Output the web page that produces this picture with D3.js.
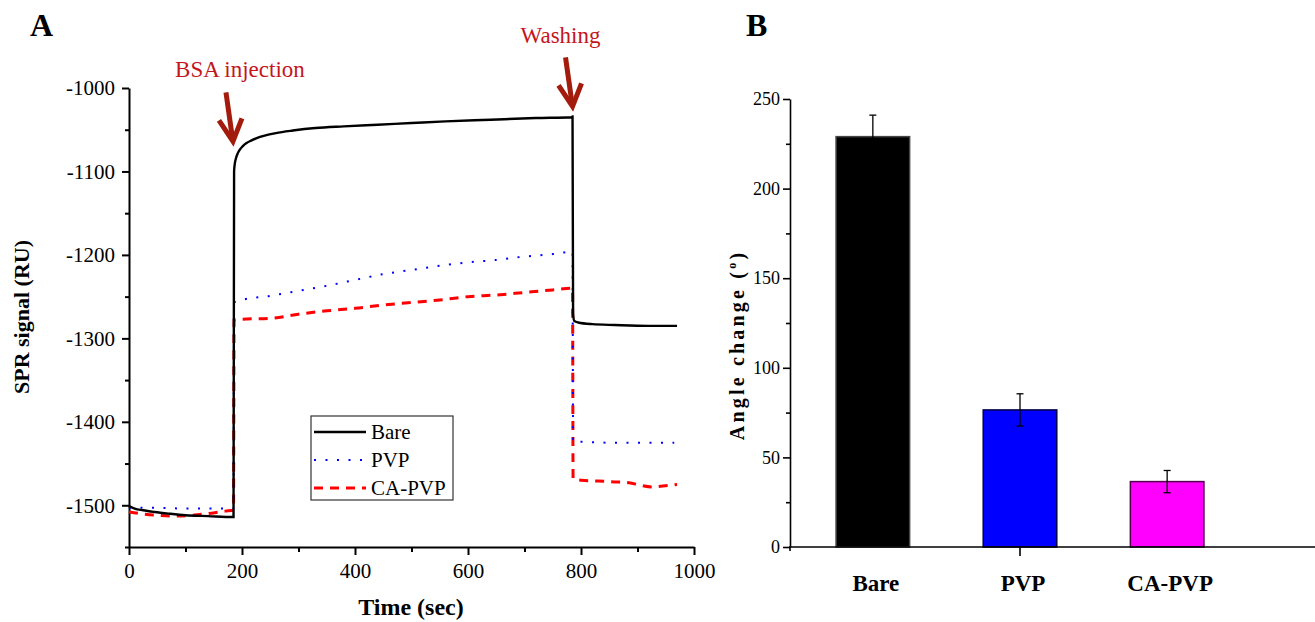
<!DOCTYPE html>
<html>
    <head>
        <script src="https://d3js.org/d3.v7.js"></script>
        <style>
            body{
                margin: 0;
                background: #fff;
            }
            text{
                font-family: 'Liberation Serif', 'Times New Roman', serif;
            }
            .axis path, .axis line{
                stroke: #000;
            }
        </style>
    </head>
    <body>
        <script>
            // panel A : SPR sensorgrams, [time (sec), signal (RU)]
            const bare = [[0,-1501],[10,-1504],[25,-1506],[45,-1508],[70,-1510],[100,-1512],[140,-1513],[185,-1514],
                [186,-1100],[187,-1092],[189,-1085],[192,-1079],[196,-1074],[201,-1070],[208,-1066],[216,-1063],
                [226,-1060],[240,-1057],[260,-1054],[290,-1051],[330,-1048],[380,-1046],[440,-1044],[500,-1042],
                [560,-1040],[640,-1038],[720,-1036],[784,-1035],
                [785,-1034],[786,-1270],[788,-1279],[795,-1281],[820,-1283],[860,-1284],[920,-1285],[970,-1285]]
            const pvp = [[0,-1503],[50,-1503],[100,-1504],[185,-1504],[186,-1257],[200,-1254],[250,-1249],
                [300,-1243],[350,-1237],[400,-1230],[450,-1223],[500,-1218],[550,-1213],[600,-1209],[650,-1206],
                [700,-1202],[750,-1199],[785,-1196],[786,-1424],[800,-1424],[850,-1425],[900,-1425],[965,-1425]]
            const caPvp = [[0,-1508],[20,-1510],[50,-1512],[80,-1513],[110,-1512],[140,-1510],[170,-1507],[185,-1506],
                [186,-1278],[200,-1277],[250,-1276],[300,-1271],[350,-1267],[400,-1264],[450,-1260],[500,-1257],
                [550,-1254],[600,-1250],[650,-1248],[700,-1245],[750,-1242],[785,-1240],[786,-1468],[800,-1470],
                [830,-1471],[860,-1472],[885,-1473],[905,-1476],[925,-1478],[945,-1477],[970,-1475]]
            const seriesNames = ['Bare', 'PVP', 'CA-PVP']
            const timeTicks = [0, 200, 400, 600, 800, 1000]
            const signalTicks = [-1500, -1400, -1300, -1200, -1100, -1000]
            // arrows: tip of arrow in data coordinates
            const events = ['BSA injection', 'Washing']
            const eventTips = [[184, -1064], [785, -1022]]

            // panel B : angle change
            const surfaces = ['Bare', 'PVP', 'CA-PVP']
            const angleChange = [229, 76.5, 36.5]
            const angleError = [12, 9, 6.2]
            const angleTicks = [0, 50, 100, 150, 200, 250]

            const w = 1315
            const h = 622

            const svg = d3.select('body')
                        .append('svg')
                        .attr('width', w)
                        .attr('height', h)

            // ---------- panel A ----------
            const xA = d3.scaleLinear().domain([0, 1000]).range([129, 694])
            const yA = d3.scaleLinear().domain([-1550, -1000]).range([547, 88])

            const styles = [
                {color: '#000', width: 2.4, dash: null},
                {color: '#0000ff', width: 2, dash: '2,9.5'},
                {color: '#ff0000', width: 3, dash: '9,7'}
            ]

            const xAxisA = d3.axisBottom(xA).tickValues(timeTicks).tickSize(8).tickSizeOuter(0).tickPadding(8)
                             .tickFormat(d => String(d))
            const xMinorA = d3.axisBottom(xA).tickValues(d3.range(100, 1000, 200)).tickSize(5).tickFormat('')
            const yAxisA = d3.axisLeft(yA).tickValues(signalTicks).tickSize(7).tickSizeOuter(0).tickPadding(7)
                             .tickFormat(d => String(d))
            const yMinorA = d3.axisLeft(yA).tickValues(d3.range(-1550, -1000, 100)).tickSize(4).tickFormat('')

            const gx = svg.append('g').attr('class', 'axis')
                .attr('transform', 'translate(0,' + yA.range()[0] + ')')
            gx.call(xAxisA)
            gx.append('g').call(xMinorA).select('.domain').remove()
            const gy = svg.append('g').attr('class', 'axis')
                .attr('transform', 'translate(' + xA.range()[0] + ',0)')
            gy.call(yAxisA)
            gy.append('g').call(yMinorA).select('.domain').remove()
            svg.selectAll('.axis path, .axis line').attr('stroke-width', 2)
            svg.selectAll('.axis text').attr('font-size', 21).attr('fill', '#000')

            const line = d3.line()
                .x(d => xA(d[0]))
                .y(d => yA(d[1]))
                .curve(d3.curveMonotoneX)

            const series = [bare, pvp, caPvp]
            series.slice().reverse().forEach((s, j) => {
                const i = series.length - 1 - j
                svg.append('path')
                    .attr('d', line(s))
                    .attr('fill', 'none')
                    .attr('stroke', styles[i].color)
                    .attr('stroke-width', styles[i].width)
                    .attr('stroke-dasharray', styles[i].dash)
            })

            svg.append('text')
                .attr('x', 411).attr('y', 615)
                .attr('text-anchor', 'middle')
                .attr('font-size', 24).attr('font-weight', 'bold')
                .text('Time (sec)')
            svg.append('text')
                .attr('transform', 'translate(29,317) rotate(-90)')
                .attr('text-anchor', 'middle')
                .attr('font-size', 22).attr('font-weight', 'bold')
                .text('SPR signal (RU)')

            // legend
            const legend = svg.append('g').attr('transform', 'translate(311,416)')
            legend.append('rect')
                .attr('width', 142).attr('height', 84)
                .attr('fill', '#fff').attr('stroke', '#333').attr('stroke-width', 1.2)
            seriesNames.forEach((name, i) => {
                const yy = 16 + i * 28
                legend.append('line')
                    .attr('x1', 3).attr('x2', 55).attr('y1', yy).attr('y2', yy)
                    .attr('stroke', styles[i].color)
                    .attr('stroke-width', styles[i].width)
                    .attr('stroke-dasharray', styles[i].dash)
                legend.append('text')
                    .attr('x', 60).attr('y', yy + 7)
                    .attr('font-size', 21)
                    .text(name)
            })

            // event arrows
            events.forEach((label, i) => {
                const tx = xA(eventTips[i][0])
                const ty = yA(eventTips[i][1])
                const g = svg.append('g').attr('transform', 'translate(' + tx + ',' + ty + ')')
                g.append('line')
                    .attr('x1', -7).attr('y1', -49).attr('x2', -0.5).attr('y2', -3)
                    .attr('stroke', '#a31b0c').attr('stroke-width', 5)
                g.append('polyline')
                    .attr('points', '-14,-21 0,0 9,-23')
                    .attr('fill', 'none')
                    .attr('stroke', '#a31b0c').attr('stroke-width', 5)
                    .attr('stroke-linejoin', 'miter')
                g.append('text')
                    .attr('x', i === 0 ? 7 : -12).attr('y', i === 0 ? -64 : -63)
                    .attr('text-anchor', 'middle')
                    .attr('font-size', 23)
                    .attr('fill', '#c3161c')
                    .text(label)
            })

            svg.append('text')
                .attr('x', 30).attr('y', 36)
                .attr('font-size', 32).attr('font-weight', 'bold')
                .text('A')

            // ---------- panel B ----------
            const xB = d3.scaleBand().domain(surfaces).range([790, 1250]).paddingInner(0.5).paddingOuter(0.313)
            const yB = d3.scaleLinear().domain([0, 250]).range([547, 99])
            const colours = ['#000000', '#0000ff', '#ff00ff']
            const edges = ['#444444', '#000044', '#55004f']

            const yAxisB = d3.axisLeft(yB).tickValues(angleTicks).tickSize(7).tickSizeOuter(0).tickPadding(3)
            const yMinorB = d3.axisLeft(yB).tickValues(d3.range(25, 250, 50)).tickSize(4).tickFormat('')

            svg.selectAll('.bar')
                .data(surfaces)
                .enter()
                .append('rect')
                .attr('class', 'bar')
                .attr('x', d => xB(d))
                .attr('y', (d, i) => yB(angleChange[i]))
                .attr('width', xB.bandwidth())
                .attr('height', (d, i) => yB(0) - yB(angleChange[i]))
                .attr('fill', (d, i) => colours[i])
                .attr('stroke', (d, i) => edges[i])
                .attr('stroke-width', 1.5)

            const err = svg.selectAll('.err')
                .data(surfaces)
                .enter()
                .append('g')
                .attr('class', 'err')
                .attr('transform', d => 'translate(' + (xB(d) + xB.bandwidth() / 2) + ',0)')
                .attr('stroke', '#000').attr('stroke-width', 1.3)
            err.append('line')
                .attr('y1', (d, i) => yB(angleChange[i] - angleError[i]))
                .attr('y2', (d, i) => yB(angleChange[i] + angleError[i]))
            err.append('line').attr('x1', -3.5).attr('x2', 3.5)
                .attr('y1', (d, i) => yB(angleChange[i] + angleError[i]))
                .attr('y2', (d, i) => yB(angleChange[i] + angleError[i]))
            err.append('line').attr('x1', -3.5).attr('x2', 3.5)
                .attr('y1', (d, i) => yB(angleChange[i] - angleError[i]))
                .attr('y2', (d, i) => yB(angleChange[i] - angleError[i]))

            const gyB = svg.append('g').attr('class', 'axis axisB')
                .attr('transform', 'translate(790,0)')
            gyB.call(yAxisB)
            gyB.selectAll('text').attr('font-size', 18).attr('fill', '#000')
            gyB.append('g').call(yMinorB).select('.domain').remove()

            // x axis of panel B : line to the edge, one tick under the middle bar
            const gxB = svg.append('g').attr('class', 'axis axisB')
                .attr('transform', 'translate(0,' + yB(0) + ')')
            gxB.append('line').attr('x1', 789).attr('x2', w)
            gxB.append('line').attr('x1', 790).attr('x2', 790).attr('y1', 0).attr('y2', 4)
            gxB.append('line')
                .attr('x1', xB('PVP') + xB.bandwidth() / 2).attr('x2', xB('PVP') + xB.bandwidth() / 2)
                .attr('y1', 0).attr('y2', 9)
            svg.selectAll('.axisB path, .axisB line').attr('stroke-width', 1.6)

            svg.selectAll('.cat')
                .data(surfaces)
                .enter()
                .append('text')
                .attr('class', 'cat')
                .attr('x', d => xB(d) + xB.bandwidth() / 2 + 3)
                .attr('y', 591)
                .attr('text-anchor', 'middle')
                .attr('font-size', 23).attr('font-weight', 'bold')
                .text(d => d)

            const yLab = svg.append('text')
                .attr('transform', 'translate(744,345) rotate(-90)')
                .attr('text-anchor', 'middle')
                .attr('font-size', 20).attr('font-weight', 'bold')
                .attr('letter-spacing', 3.2)
            yLab.append('tspan').text('Angle change (')
            yLab.append('tspan').attr('font-size', 12).attr('dy', -8).text('o')
            yLab.append('tspan').attr('dy', 8).text(')')

            svg.append('text')
                .attr('x', 746).attr('y', 36)
                .attr('font-size', 32).attr('font-weight', 'bold')
                .text('B')
        </script>
    </body>
</html>
